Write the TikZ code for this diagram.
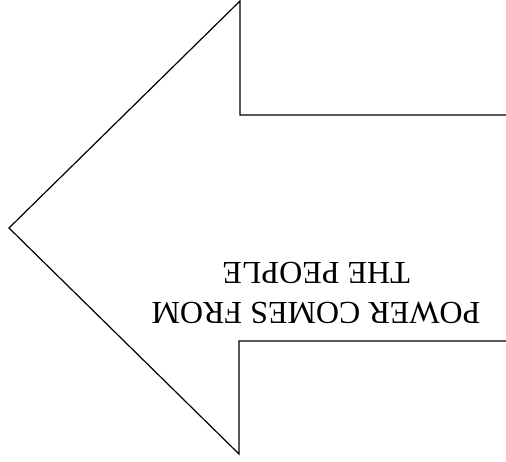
\documentclass[tikz,border=0pt]{standalone}
\usepackage{fontspec}
\setmainfont{Liberation Serif}
\usetikzlibrary{positioning}

\begin{document}
\begin{tikzpicture}[
  x=1pt, y=1pt,
  outline/.style={draw=black, line width=1.2pt, line join=miter},
  slogan/.style={align=center, font=\fontsize{32}{40}\selectfont, rotate=180, inner sep=0pt}
]
\useasboundingbox (0,0) rectangle (506,461);
% corners of the arrow
\coordinate (tip) at (9,233);
\coordinate (headtop) at (240,460);
\coordinate (shafttopl) at (240,346);
\coordinate (shafttopr) at (506,346);
\coordinate (shaftbotr) at (506,120);
\coordinate (shaftbotl) at (239,120);
\coordinate (headbot) at (239,7);

\draw[outline] (shafttopr) -- (shafttopl) -- (headtop) -- (tip) -- (headbot) -- (shaftbotl) -- (shaftbotr);

\node[slogan] (text) at (316,168) {POWER COMES FROM\\THE PEOPLE};
\end{tikzpicture}
\end{document}
